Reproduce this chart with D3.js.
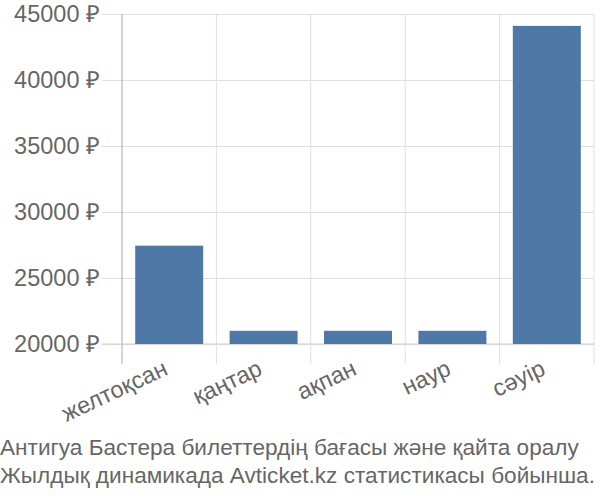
<!DOCTYPE html>
<html>
<head>
<meta charset="utf-8">
<script src="https://cdn.jsdelivr.net/npm/d3@7"></script>
<style>
  body { margin: 0; background: #fff; }
  text { font-family: "Liberation Sans", Arial, sans-serif; fill: #666; }
</style>
</head>
<body>
<div id="canvas"></div>
<script>
const months = ["желтоқсан", "қаңтар", "ақпан", "наур", "сәуір"];
const prices = [27450, 21000, 21000, 21000, 44100];
const yTicks = [20000, 25000, 30000, 35000, 40000, 45000];
const titleLines = [
  "Антигуа Бастера билеттердің бағасы және қайта оралу",
  "Жылдық динамикада Avticket.kz статистикасы бойынша."
];

const width = 600;
const height = 500;
const margin = { top: 14, left: 122, bottom: 156, right: 6 };
const iwidth = width - margin.left - margin.right;
const iheight = height - margin.top - margin.bottom;

const svg = d3.select("#canvas").append("svg")
  .attr("width", width)
  .attr("height", height);

const g = svg.append("g").attr("transform", `translate(${margin.left},${margin.top})`);

const x = d3.scaleBand()
  .domain(months)
  .range([0, iwidth])
  .paddingInner(0.28)
  .paddingOuter(0.14);

const band = d3.scaleBand().domain(months).range([0, iwidth]);

const y = d3.scaleLinear()
  .domain([20000, 45000])
  .range([iheight, 0]);

// horizontal grid + y labels
const yAxis = g.append("g")
  .call(d3.axisLeft(y).tickValues(yTicks).tickSize(-iwidth).tickPadding(22).tickFormat(d => d + " ₽"));
yAxis.select(".domain").remove();
yAxis.selectAll(".tick line").attr("stroke", "#e0e0e0").attr("x1", -20);
yAxis.selectAll(".tick text").attr("font-size", 23.5).style("fill", "#666");

// vertical grid at band edges
const edges = months.map(m => band(m)).concat([iwidth]);
g.selectAll(".vgrid")
  .data(edges)
  .enter().append("line")
  .attr("class", "vgrid")
  .attr("x1", d => d).attr("x2", d => d)
  .attr("y1", 0).attr("y2", iheight + 20)
  .attr("stroke", (d, i) => i === 0 ? "#aaa" : "#e0e0e0");

// x axis baseline
g.append("line")
  .attr("x1", -20).attr("x2", iwidth)
  .attr("y1", iheight).attr("y2", iheight)
  .attr("stroke", "#ccc");

g.selectAll(".bar")
  .data(months)
  .enter().append("rect")
  .attr("class", "bar")
  .attr("x", d => x(d))
  .attr("y", (d, i) => y(prices[i]))
  .attr("width", x.bandwidth())
  .attr("height", (d, i) => iheight - y(prices[i]))
  .attr("fill", "#4e78a6");

// x labels
g.selectAll(".xlabel")
  .data(months)
  .enter().append("text")
  .attr("class", "xlabel")
  .attr("text-anchor", "end")
  .attr("font-size", 23.5)
  .attr("transform", d => `translate(${band(d) + band.bandwidth() / 2},${iheight + 30}) rotate(-25)`)
  .text(d => d);

svg.selectAll(".title")
  .data(titleLines)
  .enter().append("text")
  .attr("class", "title")
  .attr("x", 0)
  .attr("y", (d, i) => 455 + i * 28)
  .attr("font-size", 22.6)
  .text(d => d);
</script>
</body>
</html>
